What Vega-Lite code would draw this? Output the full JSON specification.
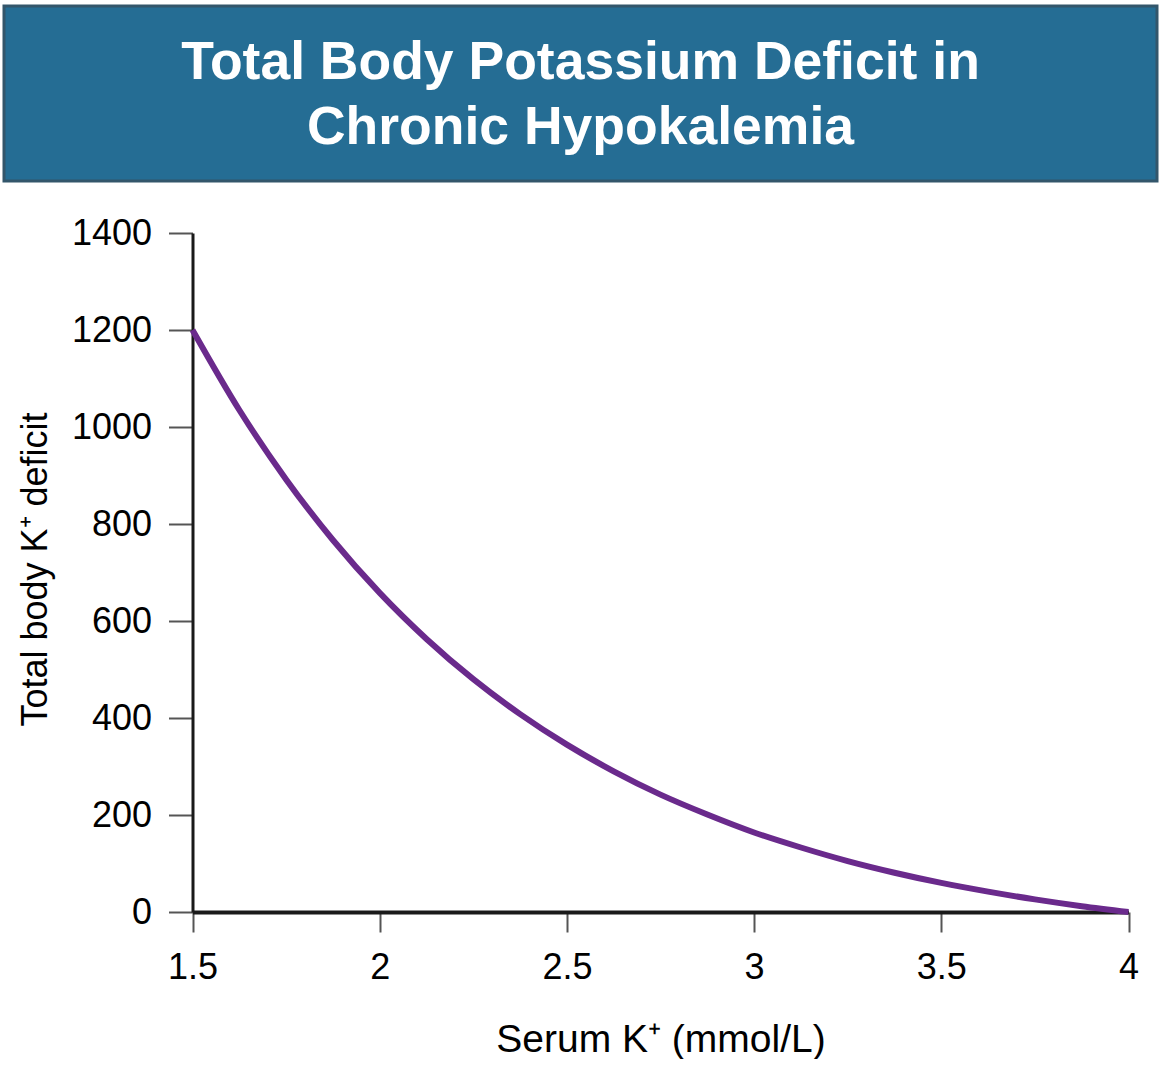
{
  "$schema": "https://vega.github.io/schema/vega-lite/v6.json",
  "background": "white",
  "padding": {"left": 2, "top": 4, "right": 0, "bottom": 0},
  "spacing": 32,
  "config": {"font": "Liberation Sans", "view": {"stroke": null}},
  "vconcat": [
    {
      "width": 1153,
      "height": 175,
      "view": {"fill": "#256d94", "stroke": "#33566b", "strokeWidth": 3},
      "data": {
        "values": [
          {"row": 1, "line": "Total Body Potassium Deficit in"},
          {"row": 2, "line": "Chronic Hypokalemia"}
        ]
      },
      "mark": {"type": "text", "fontSize": 53.5, "fontWeight": "bold", "color": "white", "baseline": "middle", "align": "center", "dy": 2},
      "encoding": {
        "y": {"field": "row", "type": "ordinal", "axis": null, "scale": {"type": "point", "padding": 0.846}},
        "text": {"field": "line"}
      }
    },
    {
      "width": 1125,
      "height": 679,
      "data": {
        "values": [
          {"serum_k": 1.5, "deficit": 1200},
          {"serum_k": 1.625, "deficit": 1035},
          {"serum_k": 1.75, "deficit": 892},
          {"serum_k": 1.875, "deficit": 767},
          {"serum_k": 2.0, "deficit": 658},
          {"serum_k": 2.125, "deficit": 563},
          {"serum_k": 2.25, "deficit": 480},
          {"serum_k": 2.375, "deficit": 408},
          {"serum_k": 2.5, "deficit": 345},
          {"serum_k": 2.625, "deficit": 290},
          {"serum_k": 2.75, "deficit": 242},
          {"serum_k": 2.875, "deficit": 201},
          {"serum_k": 3.0, "deficit": 164},
          {"serum_k": 3.125, "deficit": 133},
          {"serum_k": 3.25, "deficit": 105},
          {"serum_k": 3.375, "deficit": 81},
          {"serum_k": 3.5, "deficit": 60},
          {"serum_k": 3.625, "deficit": 42},
          {"serum_k": 3.75, "deficit": 26},
          {"serum_k": 3.875, "deficit": 12},
          {"serum_k": 4.0, "deficit": 0}
        ]
      },
      "mark": {"type": "line", "color": "#6a2a8c", "strokeWidth": 6, "interpolate": "monotone", "clip": false},
      "encoding": {
        "x": {
          "field": "serum_k",
          "type": "quantitative",
          "scale": {"domain": [1.5, 4], "range": [188.5, 1124.5], "nice": false, "zero": false},
          "axis": {
            "title": "Serum K⁺ (mmol/L)",
            "values": [1.5, 2, 2.5, 3, 3.5, 4],
            "format": "~g",
            "grid": false,
            "domainColor": "#1a1a1a",
            "domainWidth": 4,
            "tickColor": "#555555",
            "tickWidth": 2,
            "tickSize": 20,
            "labelFontSize": 36,
            "labelColor": "#000000",
            "labelPadding": 18,
            "labelFlush": false,
            "titleFontSize": 39,
            "titleFontWeight": "normal",
            "titleColor": "#000000",
            "titleBaseline": "alphabetic",
            "titleY": 139
          }
        },
        "y": {
          "field": "deficit",
          "type": "quantitative",
          "scale": {"domain": [0, 1400], "nice": false},
          "axis": {
            "title": "Total body K⁺ deficit",
            "offset": -188.5,
            "values": [0, 200, 400, 600, 800, 1000, 1200, 1400],
            "format": "d",
            "grid": false,
            "domainColor": "#1a1a1a",
            "domainWidth": 3,
            "tickColor": "#555555",
            "tickWidth": 2,
            "tickSize": 24,
            "labelFontSize": 36,
            "labelColor": "#000000",
            "labelPadding": 17,
            "labelFlush": false,
            "titleFontSize": 36,
            "titleFontWeight": "normal",
            "titleColor": "#000000",
            "titleAngle": -90,
            "titleAlign": "center",
            "titleBaseline": "alphabetic",
            "titleX": -146,
            "titleY": 336
          }
        }
      }
    }
  ]
}
